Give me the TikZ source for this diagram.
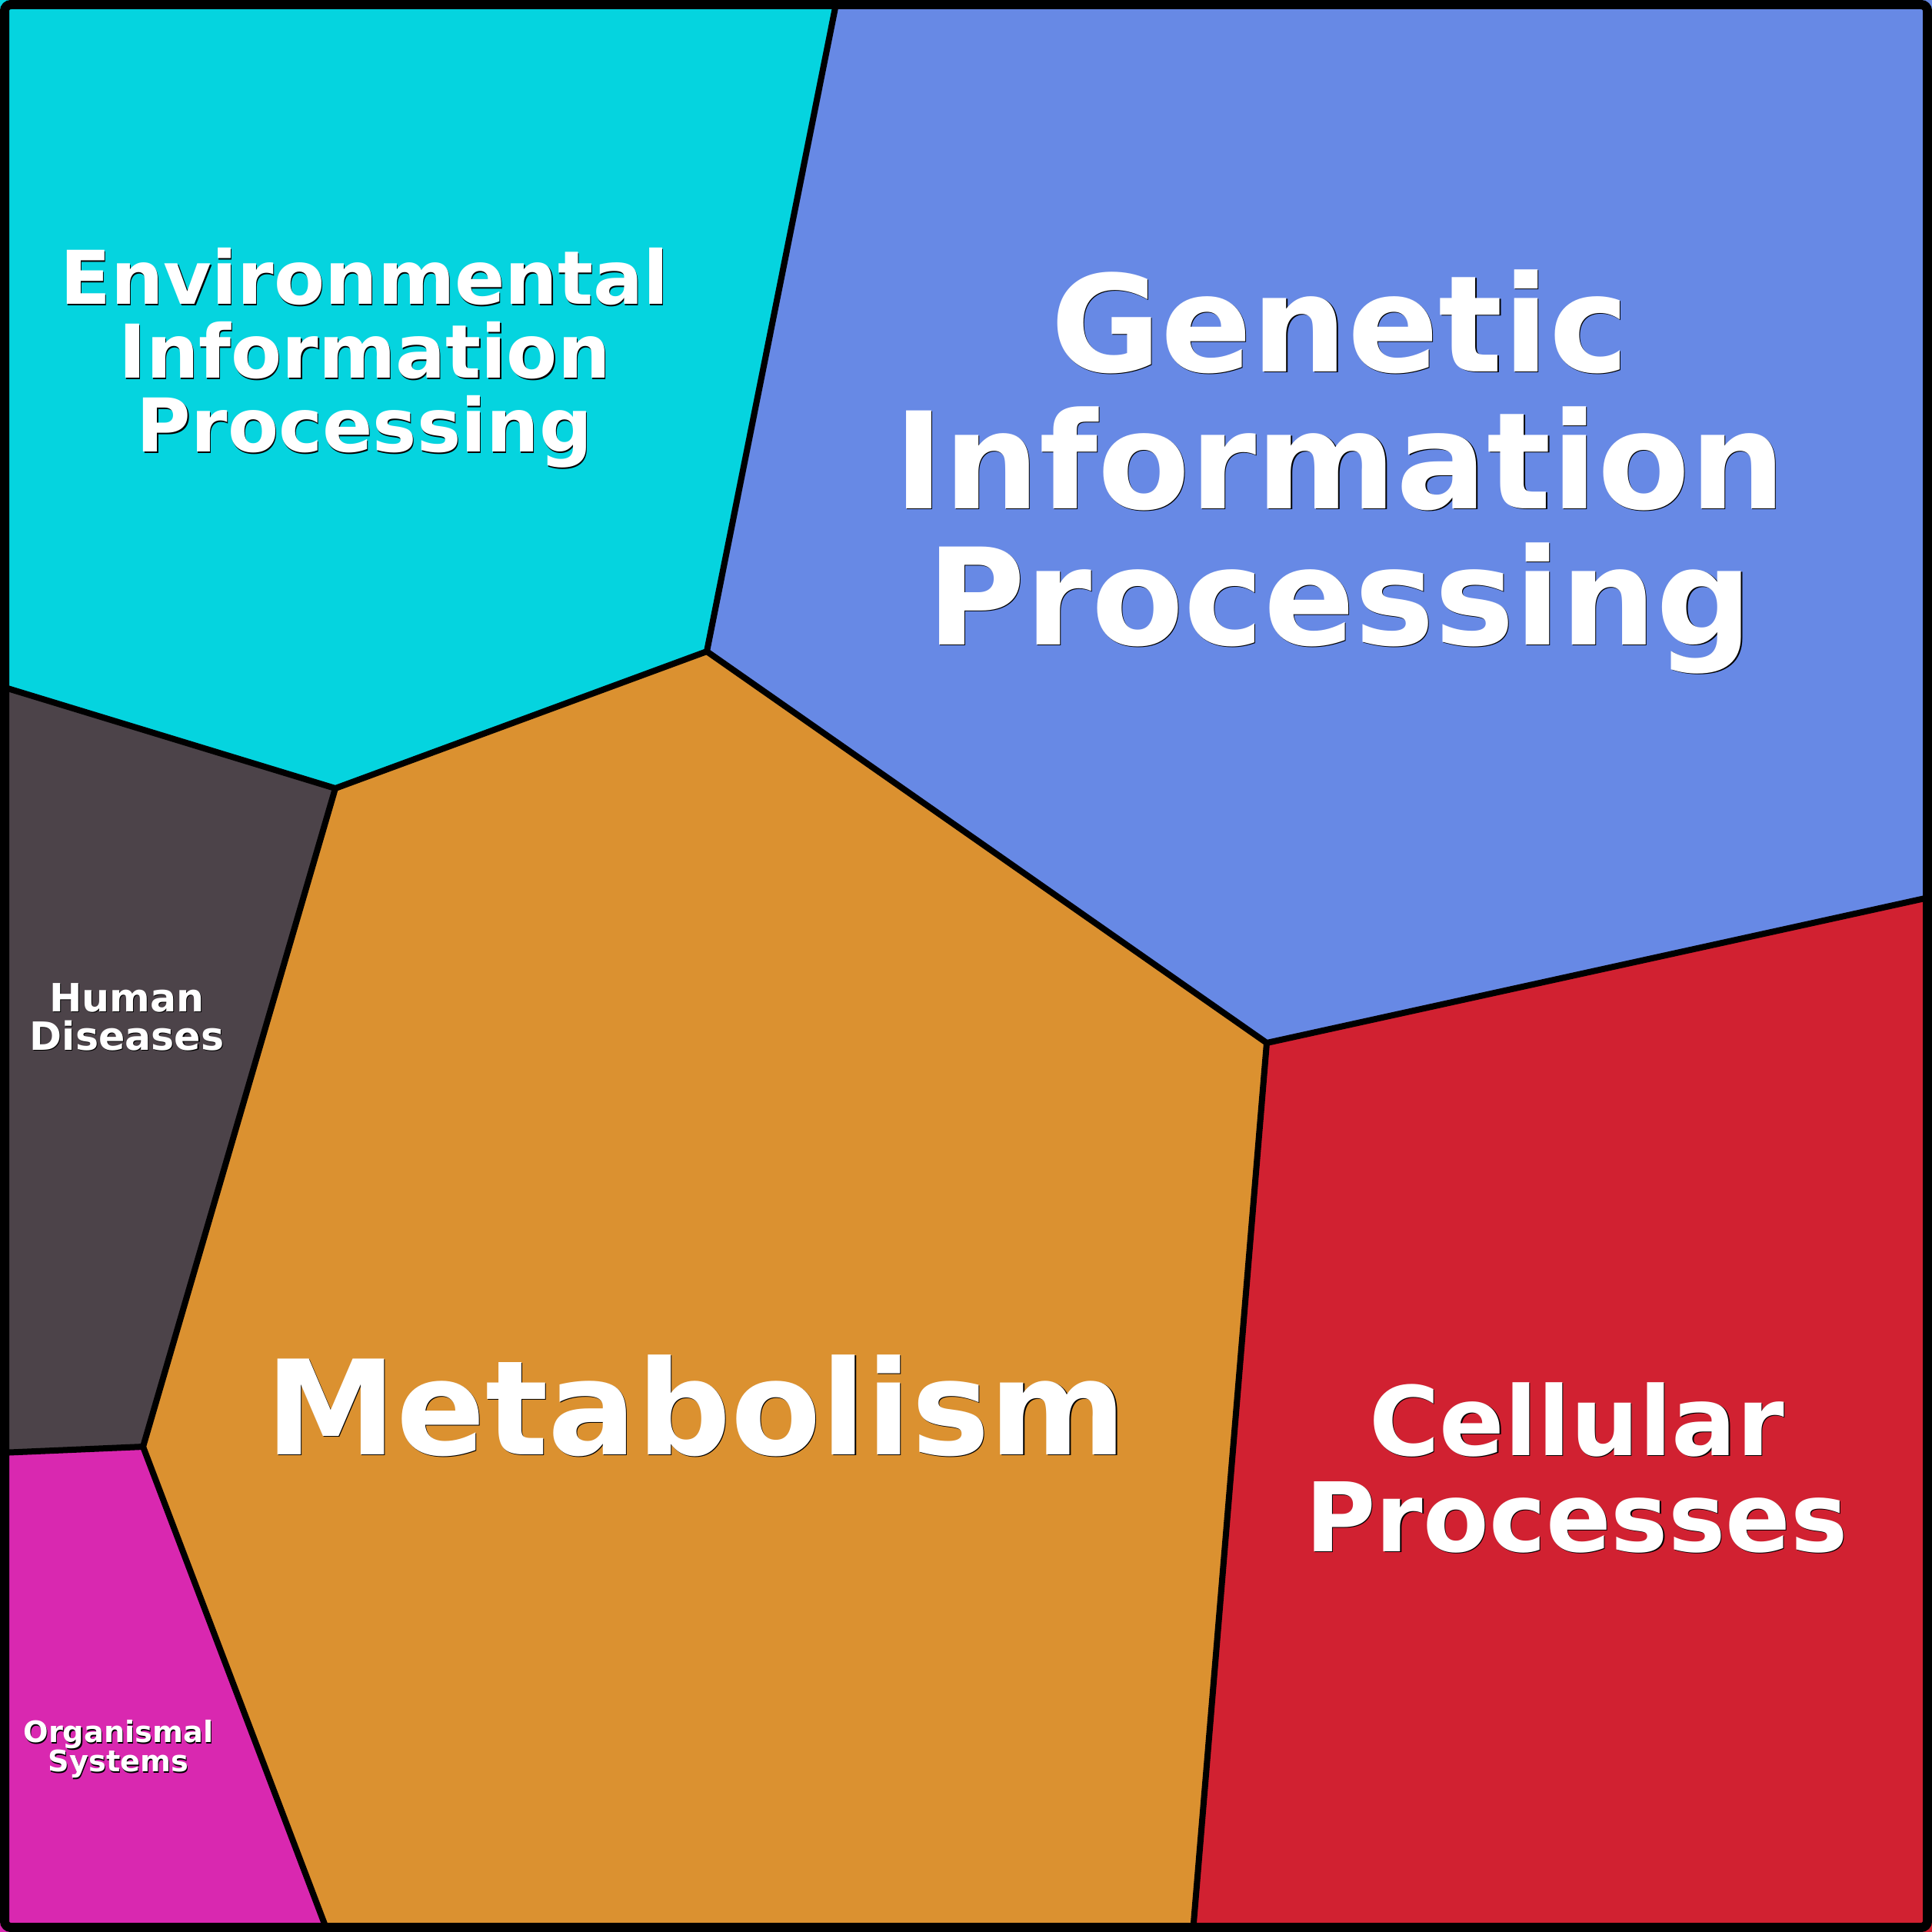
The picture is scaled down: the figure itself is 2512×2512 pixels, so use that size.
\documentclass[tikz,border=0pt]{standalone}
\usepackage{fontspec}
\setmainfont{DejaVu Sans}
\usepackage{tikz}
\usetikzlibrary{positioning}
\definecolor{envcol}{HTML}{05D4DF}
\definecolor{gencol}{HTML}{6789E5}
\definecolor{metcol}{HTML}{DB9130}
\definecolor{celcol}{HTML}{D12131}
\definecolor{humcol}{HTML}{4C4349}
\definecolor{orgcol}{HTML}{D928B0}
\tikzstyle{edge} = [draw, line width=0.08cm, line join=round]
\tikzstyle{labeltext} = [inner sep=0pt, align=center, text=white]
% #1 node options, #2 name, #3 position, #4 font, #5 text
\newcommand{\regiontext}[5]{%
  \node[labeltext, #1, text=black, font=#4, shift={(1.2,1.2)}] (#2-s) at #3 {#5};
  \node[labeltext, #1, font=#4] (#2) at #3 {#5};}

\begin{document}
\begin{tikzpicture}[x=0.01cm, y=-0.01cm]
    \useasboundingbox (0,0) rectangle (2512,2512);
    % corners of the cells
    \coordinate (top) at (1088,0);
    \coordinate (a) at (919,847);
    \coordinate (b) at (436,1025);
    \coordinate (c) at (0,892);
    \coordinate (d) at (186,1881);
    \coordinate (e) at (0,1889);
    \coordinate (f) at (426,2512);
    \coordinate (g) at (1647,1356);
    \coordinate (h) at (2512,1166);
    \coordinate (k) at (1551,2512);
    % cells
    \fill[envcol] (0,0) -- (top) -- (a) -- (b) -- (c) -- cycle;
    \fill[gencol] (top) -- (2512,0) -- (h) -- (g) -- (a) -- cycle;
    \fill[metcol] (a) -- (g) -- (k) -- (f) -- (d) -- (b) -- cycle;
    \fill[celcol] (g) -- (h) -- (2512,2512) -- (k) -- cycle;
    \fill[humcol] (c) -- (b) -- (d) -- (e) -- cycle;
    \fill[orgcol] (e) -- (d) -- (f) -- (0,2512) -- cycle;
    % borders
    \path[edge] (top) -- (a) -- (b) -- (c);
    \path[edge] (b) -- (d) -- (e);
    \path[edge] (d) -- (f);
    \path[edge] (a) -- (g) -- (h);
    \path[edge] (g) -- (k);
    \draw[line width=0.12cm, rounded corners=0.08cm] (6,6) rectangle (2506,2506);
    % labels
    \regiontext{anchor=north}{env}{(474,322)}{\fontsize{27.4}{27.3}\selectfont\bfseries}{Environmental\\Information\\Processing}
    \regiontext{anchor=north}{gen}{(1742,350)}{\fontsize{49.7}{50.5}\selectfont\bfseries}{Genetic\\Information\\Processing}
    \regiontext{anchor=base}{met}{(905,1891)}{\fontsize{48.6}{48.6}\selectfont\bfseries}{Metabolism}
    \regiontext{anchor=north}{cel}{(2050,1797)}{\fontsize{35.5}{35.5}\selectfont\bfseries}{Cellular\\Processes}
    \regiontext{anchor=north}{hum}{(165,1278)}{\fontsize{14.4}{14.2}\selectfont\bfseries}{Human\\Diseases}
    \regiontext{anchor=north}{org}{(154,2236)}{\fontsize{10.9}{10.8}\selectfont\bfseries}{Organismal\\Systems}
\end{tikzpicture}
\end{document}
